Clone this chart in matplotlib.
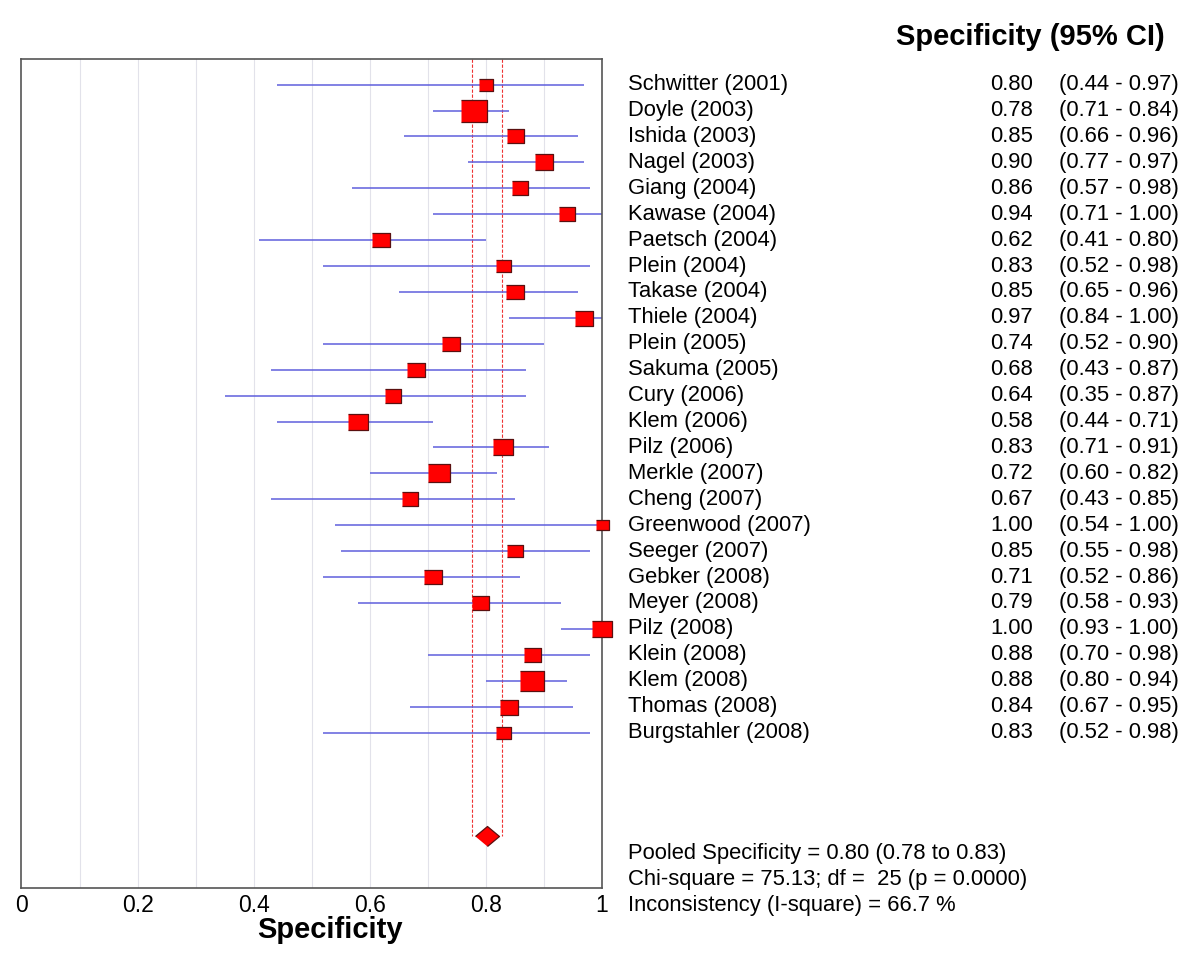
import matplotlib
matplotlib.use("Agg")
import matplotlib.pyplot as plt
from matplotlib.transforms import blended_transform_factory

plt.rcParams['font.family'] = ['Liberation Sans', 'DejaVu Sans']

studies = ["Schwitter (2001)", "Doyle (2003)", "Ishida (2003)", "Nagel (2003)",
           "Giang (2004)", "Kawase (2004)", "Paetsch (2004)", "Plein (2004)",
           "Takase (2004)", "Thiele (2004)", "Plein (2005)", "Sakuma (2005)",
           "Cury (2006)", "Klem (2006)", "Pilz (2006)", "Merkle (2007)",
           "Cheng (2007)", "Greenwood (2007)", "Seeger (2007)", "Gebker (2008)",
           "Meyer (2008)", "Pilz (2008)", "Klein (2008)", "Klem (2008)",
           "Thomas (2008)", "Burgstahler (2008)"]
spec = [0.80, 0.78, 0.85, 0.90, 0.86, 0.94, 0.62, 0.83, 0.85, 0.97, 0.74, 0.68, 0.64,
        0.58, 0.83, 0.72, 0.67, 1.00, 0.85, 0.71, 0.79, 1.00, 0.88, 0.88, 0.84, 0.83]
ci_low = [0.44, 0.71, 0.66, 0.77, 0.57, 0.71, 0.41, 0.52, 0.65, 0.84, 0.52, 0.43, 0.35,
          0.44, 0.71, 0.60, 0.43, 0.54, 0.55, 0.52, 0.58, 0.93, 0.70, 0.80, 0.67, 0.52]
ci_high = [0.97, 0.84, 0.96, 0.97, 0.98, 1.00, 0.80, 0.98, 0.96, 1.00, 0.90, 0.87, 0.87,
           0.71, 0.91, 0.82, 0.85, 1.00, 0.98, 0.86, 0.93, 1.00, 0.98, 0.94, 0.95, 0.98]
# relative square size (study weight)
weights = [14.3, 26.3, 17.0, 18.7, 16.0, 15.7, 17.3, 15.0, 17.3, 18.0, 17.3, 17.3, 15.7,
           19.7, 20.0, 21.3, 16.0, 13.0, 15.3, 17.3, 17.0, 19.3, 17.0, 23.3, 18.0, 15.0]

pooled = 0.802
pooled_low = 0.776
pooled_high = 0.828
stats_lines = ["Pooled Specificity = 0.80 (0.78 to 0.83)",
               "Chi-square = 75.13; df =  25 (p = 0.0000)",
               "Inconsistency (I-square) = 66.7 %"]

fig = plt.figure(figsize=(12, 9.64), dpi=100)
ax = fig.add_axes([0.0179, 0.0788, 0.4835, 0.8603])

rows = list(range(1, len(studies) + 1))
diamond_row = len(studies) + 4

for x in [i / 10 for i in range(1, 10)]:
    ax.axvline(x, color='#e2e2ea', lw=0.8, zorder=0)

for xv in (pooled_low, pooled_high):
    ax.plot([xv, xv], [0, diamond_row], color='#ee3333', lw=0.8, ls=(0, (3, 1.5)), zorder=1)

ax.hlines(rows, ci_low, ci_high, color='#5f5fdd', lw=1.1, zorder=2)

box = [(-1.2, -1), (1.2, -1), (1.2, 1), (-1.2, 1)]
for y, s, w in zip(rows, spec, weights):
    ax.plot(s, y, marker=box, markersize=w * 0.72, color='#ff0000',
            markeredgecolor='#5a1010', markeredgewidth=0.9, ls='none',
            zorder=3, clip_on=False)

diamond = [(-1.2, 0), (0, 1), (1.2, 0), (0, -1)]
ax.plot(pooled, diamond_row, marker=diamond, markersize=24 * 0.72, color='#ff0000',
        markeredgecolor='#5a1010', markeredgewidth=0.9, ls='none', zorder=3)

ax.set_xlim(0, 1)
ax.set_ylim(32, 0)
ax.set_xticks([0, 0.2, 0.4, 0.6, 0.8, 1])
ax.set_xticklabels(["0", "0.2", "0.4", "0.6", "0.8", "1"])
ax.set_yticks([])
ax.tick_params(axis='x', length=0, labelsize=16.5, pad=4)
for sp in ax.spines.values():
    sp.set_color('#555555')
    sp.set_linewidth(1.2)

fig.text(330 / 1200, 1 - 930 / 964, "Specificity", fontsize=21, fontweight='bold',
         ha='center', va='center')
fig.text(1030 / 1200, 1 - 37 / 964, "Specificity (95% CI)", fontsize=21,
         fontweight='bold', ha='center', va='center')

tr = blended_transform_factory(fig.transFigure, ax.transData)
for y, name, s, lo, hi in zip(rows, studies, spec, ci_low, ci_high):
    ax.text(628 / 1200, y, name, transform=tr, fontsize=15.8, va='center', ha='left')
    ax.text(990 / 1200, y, f"{s:.2f}", transform=tr, fontsize=15.8, va='center', ha='left')
    ax.text(1059 / 1200, y, f"({lo:.2f} - {hi:.2f})", transform=tr, fontsize=15.8,
            va='center', ha='left')

for i, line in enumerate(stats_lines):
    ax.text(628 / 1200, diamond_row + 0.67 + i, line, transform=tr, fontsize=15.8,
            va='center', ha='left', clip_on=False)

fig.savefig("out.png", dpi=100)
